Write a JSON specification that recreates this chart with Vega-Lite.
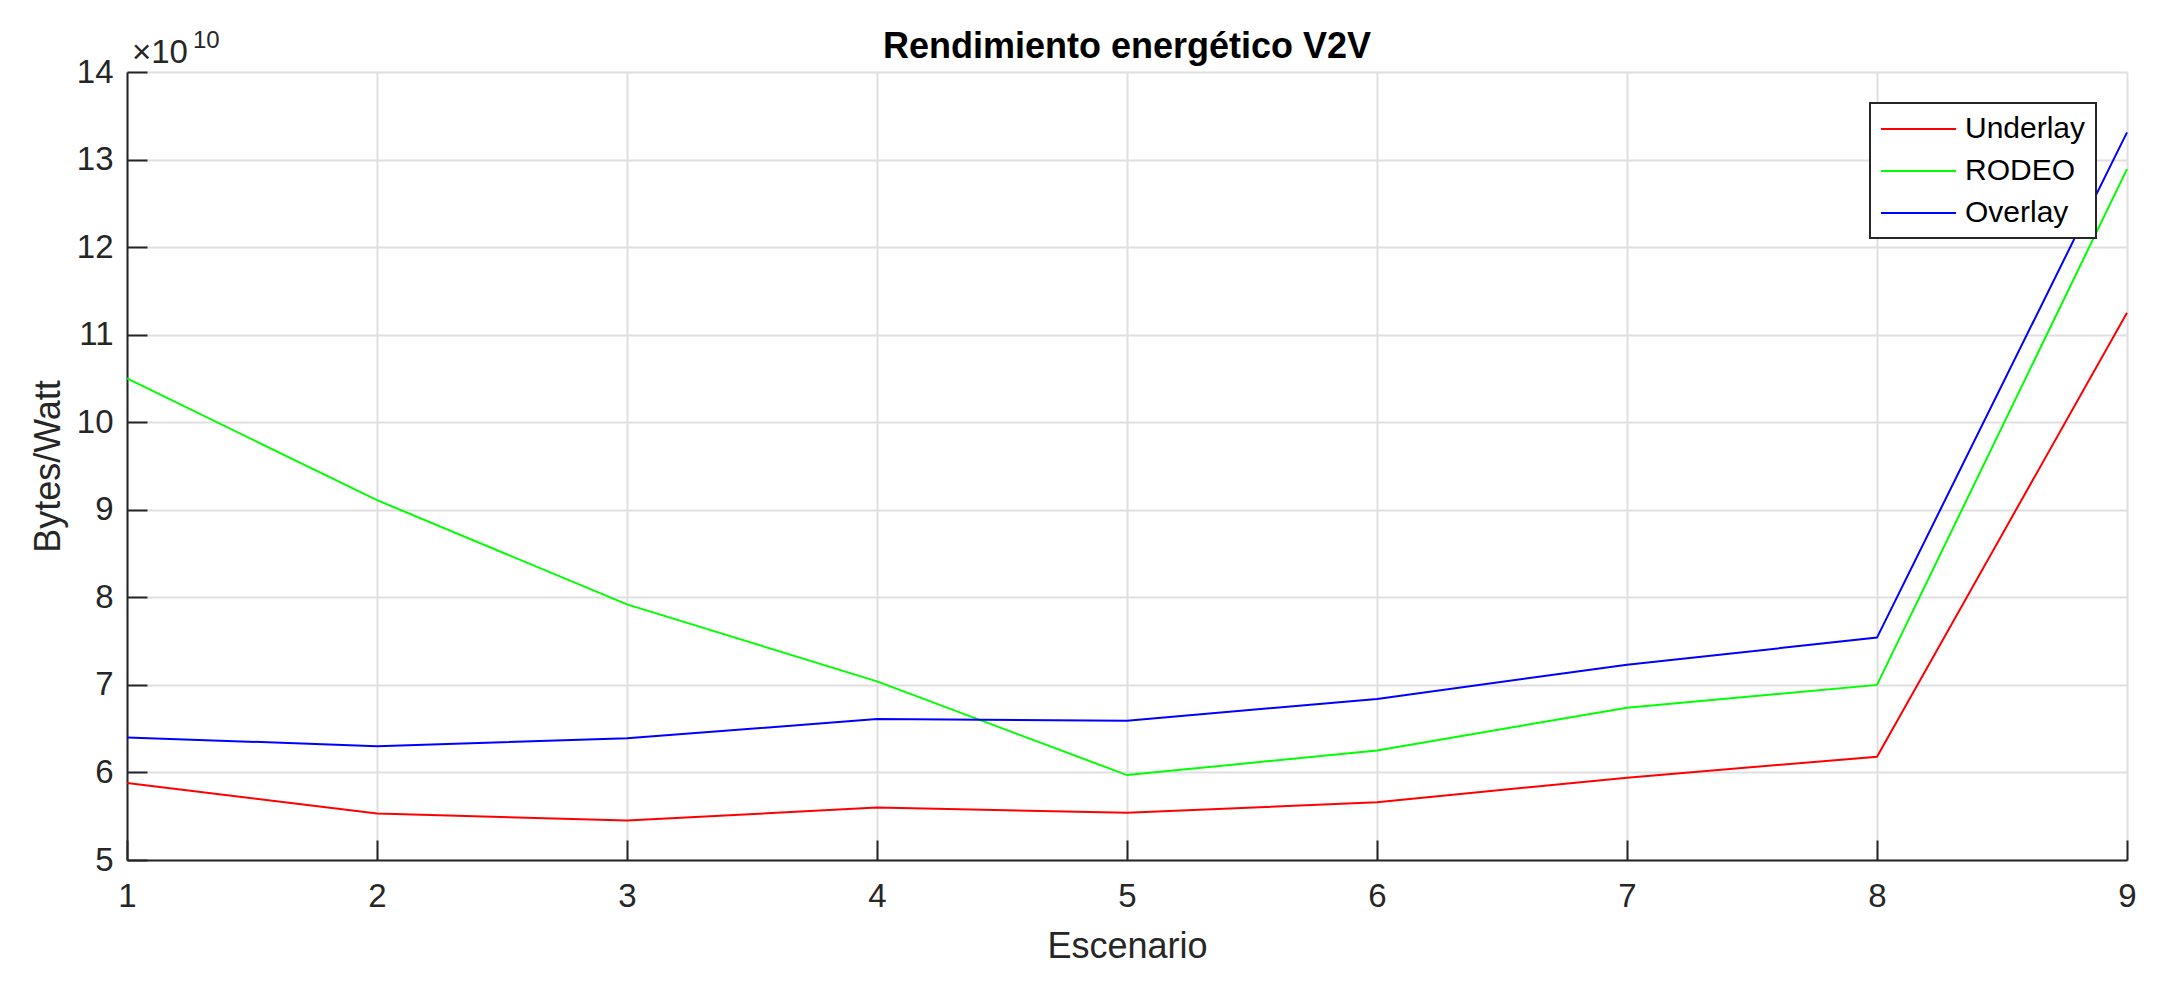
{
  "$schema": "https://vega.github.io/schema/vega-lite/v6.json",
  "width": 2000,
  "height": 788,
  "autosize": {"type": "none"},
  "padding": {"left": 127, "top": 72, "right": 36, "bottom": 121},
  "background": "white",
  "config": {"view": {"stroke": null}, "font": "Liberation Sans", "legend": {"strokeWidth": 2}},
  "title": {"text": "Rendimiento energético V2V", "fontSize": 36, "fontWeight": "bold", "font": "Liberation Sans", "color": "black", "baseline": "bottom", "offset": -73, "anchor": "middle"},
  "datasets": {
    "series": [
      {"escenario": 1, "serie": "Underlay", "bytes_watt": 58800000000},
      {"escenario": 2, "serie": "Underlay", "bytes_watt": 55300000000},
      {"escenario": 3, "serie": "Underlay", "bytes_watt": 54500000000},
      {"escenario": 4, "serie": "Underlay", "bytes_watt": 56000000000},
      {"escenario": 5, "serie": "Underlay", "bytes_watt": 55400000000},
      {"escenario": 6, "serie": "Underlay", "bytes_watt": 56600000000},
      {"escenario": 7, "serie": "Underlay", "bytes_watt": 59400000000},
      {"escenario": 8, "serie": "Underlay", "bytes_watt": 61800000000},
      {"escenario": 9, "serie": "Underlay", "bytes_watt": 112500000000},
      {"escenario": 1, "serie": "RODEO", "bytes_watt": 105000000000},
      {"escenario": 2, "serie": "RODEO", "bytes_watt": 91100000000},
      {"escenario": 3, "serie": "RODEO", "bytes_watt": 79200000000},
      {"escenario": 4, "serie": "RODEO", "bytes_watt": 70400000000},
      {"escenario": 5, "serie": "RODEO", "bytes_watt": 59700000000},
      {"escenario": 6, "serie": "RODEO", "bytes_watt": 62500000000},
      {"escenario": 7, "serie": "RODEO", "bytes_watt": 67400000000},
      {"escenario": 8, "serie": "RODEO", "bytes_watt": 70000000000},
      {"escenario": 9, "serie": "RODEO", "bytes_watt": 128900000000},
      {"escenario": 1, "serie": "Overlay", "bytes_watt": 64000000000},
      {"escenario": 2, "serie": "Overlay", "bytes_watt": 63000000000},
      {"escenario": 3, "serie": "Overlay", "bytes_watt": 63900000000},
      {"escenario": 4, "serie": "Overlay", "bytes_watt": 66100000000},
      {"escenario": 5, "serie": "Overlay", "bytes_watt": 65900000000},
      {"escenario": 6, "serie": "Overlay", "bytes_watt": 68400000000},
      {"escenario": 7, "serie": "Overlay", "bytes_watt": 72300000000},
      {"escenario": 8, "serie": "Overlay", "bytes_watt": 75400000000},
      {"escenario": 9, "serie": "Overlay", "bytes_watt": 133100000000}
    ]
  },
  "layer": [
    {
      "data": {"name": "series"},
      "mark": {"type": "line", "strokeWidth": 2},
      "encoding": {
        "x": {
          "field": "escenario", "type": "quantitative",
          "scale": {"domain": [1, 9], "nice": false, "zero": false},
          "axis": {
            "values": [1, 2, 3, 4, 5, 6, 7, 8, 9], "format": "d",
            "title": "Escenario", "titleFontSize": 36, "titleFontWeight": "normal", "titleColor": "#262626",
            "titleX": 1000, "titleY": 86, "titleBaseline": "middle", "titleAlign": "center",
            "labelFontSize": 33, "labelColor": "#262626", "labelPadding": 40, "labelFlush": false,
            "ticks": true, "tickSize": -20, "tickWidth": 2, "tickColor": "#262626",
            "domainColor": "#262626", "domainWidth": 2,
            "grid": true, "gridColor": "#dfdfdf", "gridWidth": 2
          }
        },
        "y": {
          "field": "bytes_watt", "type": "quantitative",
          "scale": {"domain": [50000000000, 140000000000], "nice": false, "zero": false},
          "axis": {
            "values": [50000000000, 60000000000, 70000000000, 80000000000, 90000000000, 100000000000, 110000000000, 120000000000, 130000000000, 140000000000],
            "labelExpr": "format(datum.value / 1e10, 'd')",
            "title": "Bytes/Watt", "titleFontSize": 36, "titleFontWeight": "normal", "titleColor": "#262626",
            "titleX": -79, "titleY": 394, "titleAngle": -90, "titleBaseline": "middle", "titleAlign": "center",
            "labelFontSize": 33, "labelColor": "#262626", "labelPadding": 34, "labelFlush": false,
            "ticks": true, "tickSize": -20, "tickWidth": 2, "tickColor": "#262626",
            "domainColor": "#262626", "domainWidth": 2,
            "grid": true, "gridColor": "#dfdfdf", "gridWidth": 2
          }
        },
        "color": {
          "field": "serie", "type": "nominal",
          "scale": {"domain": ["Underlay", "RODEO", "Overlay"], "range": ["#ff0000", "#00ff00", "#0000ff"]},
          "legend": {
            "title": null, "orient": "none", "legendX": 1743, "legendY": 31,
            "symbolType": "M-1,0H4", "symbolSize": 900, "symbolStrokeWidth": 2,
            "labelOffset": 53, "labelFontSize": 30, "labelColor": "black", "labelLimit": 400,
            "rowPadding": 11, "padding": 10, "strokeColor": "#262626", "fillColor": "white",
            "cornerRadius": 0
          }
        }
      }
    },
    {
      "data": {"values": [{}]},
      "mark": {"type": "text", "text": "×10", "align": "left", "baseline": "alphabetic", "dx": 5, "dy": -9, "fontSize": 33, "color": "#262626"},
      "encoding": {
        "x": {"datum": 1, "type": "quantitative"},
        "y": {"datum": 140000000000, "type": "quantitative"}
      }
    },
    {
      "data": {"values": [{}]},
      "mark": {"type": "text", "text": "10", "align": "left", "baseline": "alphabetic", "dx": 66, "dy": -24, "fontSize": 24, "color": "#262626"},
      "encoding": {
        "x": {"datum": 1, "type": "quantitative"},
        "y": {"datum": 140000000000, "type": "quantitative"}
      }
    }
  ]
}
